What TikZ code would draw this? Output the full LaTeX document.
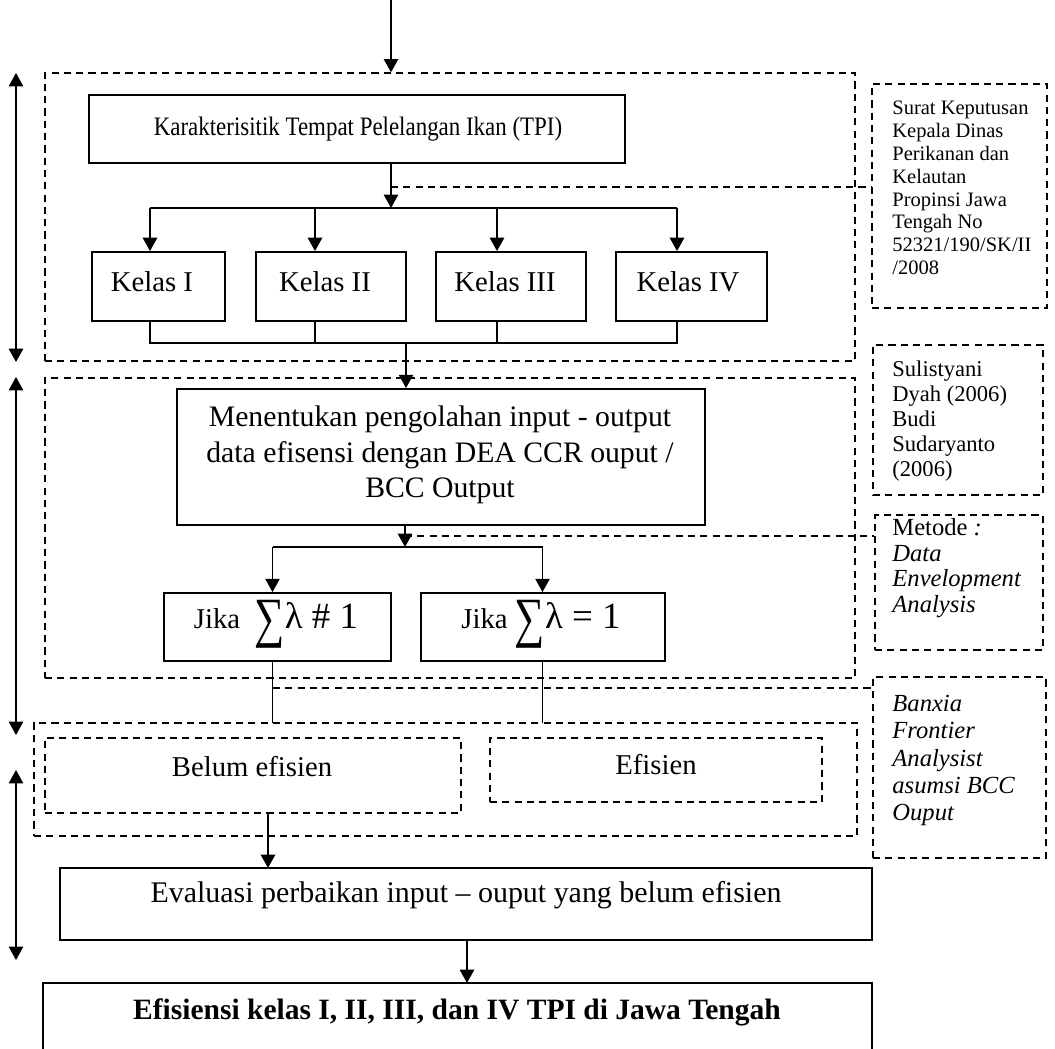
\documentclass[tikz,border=0pt]{standalone}
\usepackage{fontspec}
\usepackage{graphicx}
\setmainfont{Liberation Serif}
\usetikzlibrary{arrows.meta}
\newcommand\bigsum{\raisebox{-3.6pt}{\scalebox{1.15}[1.5]{∑}}}
\begin{document}
\begin{tikzpicture}[x=0.4878pt,y=-0.4878pt,
  sz/.style 2 args={minimum width=#1*0.4878pt, minimum height=#2*0.4878pt},
  box/.style={draw, line width=0.9pt, inner sep=0pt},
  dbox/.style={draw, line width=0.6pt, dash pattern=on 3.5pt off 2.5pt, inner sep=0pt},
  dline/.style={line width=0.6pt, dash pattern=on 3.5pt off 2.5pt},
  conn/.style={line width=0.8pt},
  arr/.style={conn, -{Triangle[length=6.5pt,width=7pt]}},
  darr/.style={conn, {Triangle[length=6.5pt,width=7pt]}-{Triangle[length=6.5pt,width=7pt]}},
  txt/.style={inner sep=0pt, font=\fontsize{14}{17}\selectfont, align=center},
  side/.style={inner sep=0pt, anchor=north west, align=left},
]
\useasboundingbox (0,0) rectangle (1055,1049);
\clip (0,0) rectangle (1055,1049);

% dashed group frames
\node[dbox, sz={810}{288}] (g1) at (450,217) {};
\node[dbox, sz={810}{300}] (g2) at (450,528) {};
\node[dbox, sz={823}{113}] (g3) at (445.5,779.5) {};

% main boxes
\node[box, sz={536}{68}] (tpi) at (357,129) {};
\node[txt, font=\fontsize{13}{16}\selectfont] (tpit) at (358,129) {\scalebox{0.86}[1]{Karakterisitik Tempat Pelelangan Ikan (TPI)}};

\node[box, sz={133}{69}] (k1) at (158.5,286.5) {};
\node[box, sz={150}{69}] (k2) at (331,286.5) {};
\node[box, sz={150}{69}] (k3) at (511,286.5) {};
\node[box, sz={151}{69}] (k4) at (691.5,286.5) {};
\node[txt] (k1t) at (152,282) {Kelas I};
\node[txt] (k2t) at (325,282) {Kelas II};
\node[txt] (k3t) at (505,282) {Kelas III};
\node[txt] (k4t) at (688,282) {Kelas IV};

\node[box, sz={528}{136}] (dea) at (441,457) {};
\node[txt, font=\fontsize{14.5}{17.2}\selectfont] (deat) at (440,455) {Menentukan pengolahan input - output\\data efisensi dengan DEA CCR ouput /\\BCC Output};

\node[box, sz={227}{68}] (j1) at (277.5,627) {};
\node[box, sz={244}{68}] (j2) at (543,627) {};
\node[txt] (j1t) at (276,624) {Jika\ \ {\fontsize{18}{18}\selectfont\bigsum λ \# 1}};
\node[txt] (j2t) at (541,624) {Jika {\fontsize{18}{18}\selectfont\bigsum λ = 1}};

\node[dbox, sz={416}{75}] (belum) at (253,775.5) {};
\node[dbox, sz={332}{64}] (efis) at (656,770) {};
\node[txt] (belumt) at (252,767) {Belum efisien};
\node[txt] (efist) at (656,765) {Efisien};

\node[box, sz={812}{72}] (eval) at (466,904) {};
\node[txt, font=\fontsize{14.6}{17}\selectfont] (evalt) at (466,895) {Evaluasi perbaikan input – ouput yang belum efisien};

\node[box, sz={829}{97}] (final) at (457.5,1031.5) {};
\node[txt, font=\fontsize{14.4}{17}\selectfont\bfseries] (finalt) at (457,1012) {Efisiensi kelas I, II, III, dan IV TPI di Jawa Tengah};

% side notes
\node[dbox, sz={175}{224}] (surat) at (959.5,196) {};
\node[side, font=\fontsize{10}{11.1}\selectfont] (suratt) at (892,101) {Surat Keputusan\\Kepala Dinas\\Perikanan dan\\Kelautan\\Propinsi Jawa\\Tengah No\\52321/190/SK/II\\/2008};

\node[dbox, sz={170}{150}] (suli) at (958,420) {};
\node[side, font=\fontsize{11}{12.2}\selectfont] (sulit) at (892,360) {Sulistyani\\Dyah (2006)\\Budi\\Sudaryanto\\(2006)};

\node[dbox, sz={168}{135}] (metode) at (959,582.5) {};
\node[side, font=\fontsize{12}{12.5}\selectfont] (metodet) at (892,518) {Metode \textit{:}\\\textit{Data}\\\textit{Envelopment}\\\textit{Analysis}};

\node[dbox, sz={173}{181}] (banxia) at (959.5,767.5) {};
\node[side, font=\fontsize{12}{13.3}\selectfont\itshape] (banxiat) at (892,695) {Banxia\\Frontier\\Analysist\\asumsi BCC\\Ouput};

% coordinates
\coordinate (topin) at (391,0);
\coordinate (sp) at (391,208);
\coordinate (d1) at (391,187);
\coordinate (a1) at (150,208);
\coordinate (a2) at (315,208);
\coordinate (a3) at (497,208);
\coordinate (a4) at (677,208);
\coordinate (m1) at (150,343);
\coordinate (m2) at (315,343);
\coordinate (m3) at (497,343);
\coordinate (m4) at (677,343);
\coordinate (m0) at (406,343);
\coordinate (s2) at (405,547);
\coordinate (d2) at (405,536);
\coordinate (b1) at (272.5,547);
\coordinate (b2) at (542.5,547);
\coordinate (l1) at (272.5,723);
\coordinate (l2) at (542.5,723);
\coordinate (d3) at (273,688);
\coordinate (e1) at (268,868);
\coordinate (e2) at (467,983);

% connectors
\draw[arr] (topin) -- (topin |- g1.north);
\draw[arr] (sp |- tpi.south) -- (sp);
\draw[dline] (d1) -- (d1 -| surat.west);
\draw[conn] (a1) -- (a4);
\draw[arr] (a1) -- (a1 |- k1.north);
\draw[arr] (a2) -- (a2 |- k2.north);
\draw[arr] (a3) -- (a3 |- k3.north);
\draw[arr] (a4) -- (a4 |- k4.north);
\draw[conn] (m1 |- k1.south) -- (m1) -- (m4) -- (m4 |- k4.south);
\draw[conn] (m2 |- k2.south) -- (m2);
\draw[conn] (m3 |- k3.south) -- (m3);
\draw[arr] (m0) -- (m0 |- dea.north);

\draw[arr] (s2 |- dea.south) -- (s2);
\draw[dline] (d2) -- (d2 -| metode.west);
\draw[conn] (b1) -- (b2);
\draw[arr] (b1) -- (b1 |- j1.north);
\draw[arr] (b2) -- (b2 |- j2.north);
\draw[conn] (l1 |- j1.south) -- (l1);
\draw[conn] (l2 |- j2.south) -- (l2);
\draw[dline] (d3) -- (d3 -| banxia.west);

\draw[arr] (e1 |- belum.south) -- (e1);
\draw[arr] (e2 |- eval.south) -- (e2);

% left-side double arrows
\coordinate (la1) at (16,73);
\coordinate (lb1) at (16,362);
\coordinate (la2) at (16,377);
\coordinate (lb2) at (16,735);
\coordinate (la3) at (16,770);
\coordinate (lb3) at (16,960);
\draw[darr] (la1) -- (lb1);
\draw[darr] (la2) -- (lb2);
\draw[darr] (la3) -- (lb3);
\end{tikzpicture}
\end{document}
